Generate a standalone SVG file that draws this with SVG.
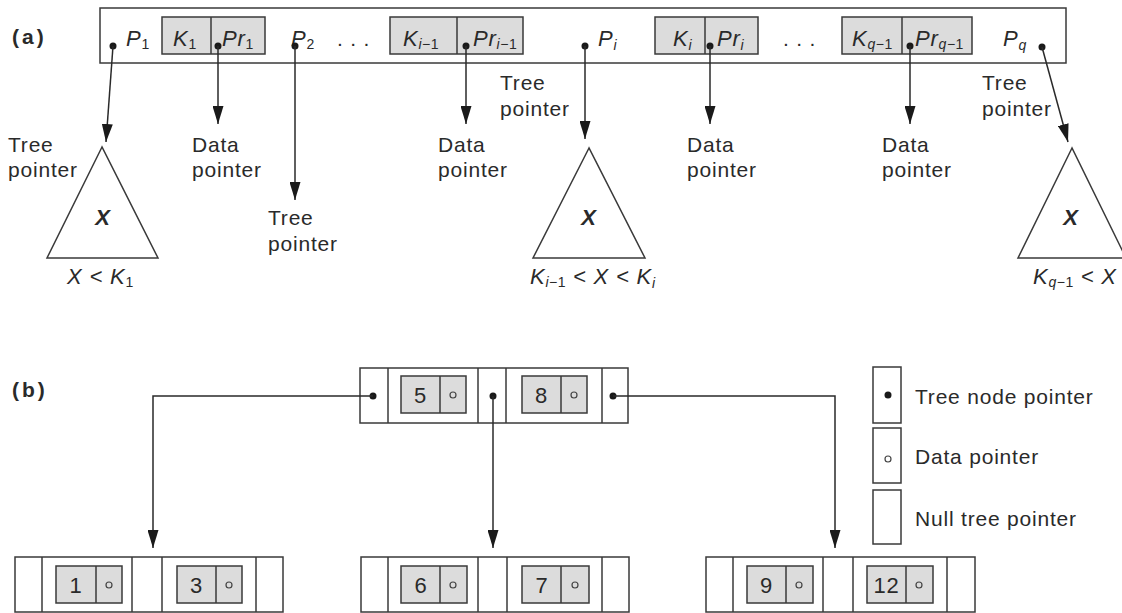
<svg xmlns="http://www.w3.org/2000/svg" width="1122" height="613" viewBox="0 0 1122 613">
<style>
text{font-family:"Liberation Sans",Arial,sans-serif;fill:#2a2a2a;font-size:21px;letter-spacing:0.8px}
.b{font-weight:bold;font-size:21px;letter-spacing:3px}
.i{font-style:italic;font-size:22px}
.bi{font-style:italic;font-weight:bold;font-size:22px}
.s{font-size:14px;letter-spacing:0.5px}
.n{font-style:normal}
.box{fill:#fff;stroke:#3a3a3a;stroke-width:1.5}
.g{fill:#dcdcdc;stroke:#3a3a3a;stroke-width:1.5}
.ln{stroke:#3a3a3a;stroke-width:1.5;fill:none}
.dot{fill:#1a1a1a}
.o{fill:none;stroke:#444;stroke-width:1.2}
.c{stroke:#2a2a2a;stroke-width:1.5;fill:none;marker-end:url(#ah)}
.d{text-anchor:middle}
.dg{font-size:22px}
</style>
<defs>
<marker id="ah" markerWidth="18" markerHeight="11" refX="18" refY="5.5" orient="auto" markerUnits="userSpaceOnUse">
<path d="M0,0 L18,5.5 L0,11 z" fill="#1a1a1a"/>
</marker>
</defs>
<rect width="1122" height="613" fill="#fff"/>

<!-- (a) -->
<text class="b" x="12" y="44">(a)</text>
<g id="a-record">
<rect class="box" x="100" y="8" width="966" height="55"/>
<rect class="g" x="162" y="17" width="103" height="37"/><line class="ln" x1="211" y1="17" x2="211" y2="54"/>
<rect class="g" x="390" y="17" width="133" height="37"/><line class="ln" x1="457" y1="17" x2="457" y2="54"/>
<rect class="g" x="655" y="17" width="103" height="37"/><line class="ln" x1="705" y1="17" x2="705" y2="54"/>
<rect class="g" x="842" y="17" width="130" height="37"/><line class="ln" x1="902" y1="17" x2="902" y2="54"/>
<text class="i" x="126" y="46">P<tspan class="s n" dy="3">1</tspan></text>
<text class="i" x="173" y="46">K<tspan class="s n" dy="3">1</tspan></text>
<text class="i" x="222" y="46">Pr<tspan class="s n" dy="3">1</tspan></text>
<text class="i" x="291" y="46">P<tspan class="s n" dy="3">2</tspan></text>
<text x="337" y="46">. . .</text>
<text class="i" x="403" y="46">K<tspan class="s" dy="3">i</tspan><tspan class="s n">−1</tspan></text>
<text class="i" x="473" y="46">Pr<tspan class="s" dy="3">i</tspan><tspan class="s n">−1</tspan></text>
<text class="i" x="598" y="46">P<tspan class="s" dy="4">i</tspan></text>
<text class="i" x="673" y="46">K<tspan class="s" dy="4">i</tspan></text>
<text class="i" x="717" y="46">Pr<tspan class="s" dy="4">i</tspan></text>
<text x="783" y="46">. . .</text>
<text class="i" x="852" y="46">K<tspan class="s" dy="3">q</tspan><tspan class="s n">−1</tspan></text>
<text class="i" x="915" y="46">Pr<tspan class="s" dy="3">q</tspan><tspan class="s n">−1</tspan></text>
<text class="i" x="1003" y="46">P<tspan class="s" dy="4">q</tspan></text>
<circle class="dot" cx="113" cy="46" r="3.5"/>
<circle class="dot" cx="218" cy="46" r="3.5"/>
<circle class="dot" cx="295" cy="46" r="3.5"/>
<circle class="dot" cx="466" cy="46" r="3.5"/>
<circle class="dot" cx="585" cy="46" r="3.5"/>
<circle class="dot" cx="710" cy="46" r="3.5"/>
<circle class="dot" cx="910" cy="46" r="3.5"/>
<circle class="dot" cx="1042" cy="47" r="3.5"/>
</g>

<g id="a-subtree-1">
<polygon class="ln" points="102,147 47,258 158,258"/>
<text class="bi d" x="103" y="225">X</text>
<text class="i" x="67" y="284">X &lt; K<tspan class="s n" dy="3">1</tspan></text>
</g>
<g id="a-subtree-i">
<polygon class="ln" points="589,148 533,258 645,258"/>
<text class="bi d" x="589" y="225">X</text>
<text class="i" x="530" y="284">K<tspan class="s" dy="3">i</tspan><tspan class="s n">−1</tspan><tspan dy="-3"> &lt; X &lt; K</tspan><tspan class="s" dy="4">i</tspan></text>
</g>
<g id="a-subtree-q">
<polygon class="ln" points="1072,148 1018,258 1126,258"/>
<text class="bi d" x="1071" y="225">X</text>
<text class="i" x="1033" y="284">K<tspan class="s" dy="3">q</tspan><tspan class="s n">−1</tspan><tspan dy="-3"> &lt; X</tspan></text>
</g>

<g id="a-labels">
<text x="8" y="152">Tree</text><text x="8" y="177">pointer</text>
<text x="192" y="152">Data</text><text x="192" y="177">pointer</text>
<text x="268" y="225">Tree</text><text x="268" y="251">pointer</text>
<text x="438" y="152">Data</text><text x="438" y="177">pointer</text>
<text x="500" y="90">Tree</text><text x="500" y="116">pointer</text>
<text x="687" y="152">Data</text><text x="687" y="177">pointer</text>
<text x="882" y="152">Data</text><text x="882" y="177">pointer</text>
<text x="982" y="90">Tree</text><text x="982" y="116">pointer</text>
</g>

<!-- (b) -->
<text class="b" x="12" y="397">(b)</text>

<g id="b-root" transform="translate(360,368)">
<rect class="box" x="0" y="0" width="268" height="55"/>
<line class="ln" x1="28" y1="0" x2="28" y2="55"/><line class="ln" x1="118" y1="0" x2="118" y2="55"/>
<line class="ln" x1="146" y1="0" x2="146" y2="55"/><line class="ln" x1="242" y1="0" x2="242" y2="55"/>
<rect class="g" x="41" y="8" width="65" height="37"/><line class="ln" x1="80" y1="8" x2="80" y2="45"/>
<rect class="g" x="162" y="8" width="65" height="37"/><line class="ln" x1="201" y1="8" x2="201" y2="45"/>
<text class="d dg" x="60.5" y="35">5</text><text class="d dg" x="181.5" y="35">8</text>
<circle class="o" cx="93" cy="27" r="3"/><circle class="o" cx="214" cy="27" r="3"/>
<circle class="dot" cx="13" cy="28" r="3.5"/><circle class="dot" cx="133" cy="28" r="3.5"/><circle class="dot" cx="253" cy="28" r="3.5"/>
</g>

<g id="b-leaf-1" transform="translate(15,557)">
<rect class="box" x="0" y="0" width="268" height="55"/>
<line class="ln" x1="27" y1="0" x2="27" y2="55"/><line class="ln" x1="117" y1="0" x2="117" y2="55"/>
<line class="ln" x1="147" y1="0" x2="147" y2="55"/><line class="ln" x1="241" y1="0" x2="241" y2="55"/>
<rect class="g" x="41" y="9" width="66" height="37"/><line class="ln" x1="81" y1="9" x2="81" y2="46"/>
<rect class="g" x="162" y="9" width="65" height="37"/><line class="ln" x1="201" y1="9" x2="201" y2="46"/>
<text class="d dg" x="61" y="36">1</text><text class="d dg" x="181.5" y="36">3</text>
<circle class="o" cx="94" cy="28" r="3"/><circle class="o" cx="214" cy="28" r="3"/>
</g>

<g id="b-leaf-2" transform="translate(361,557)">
<rect class="box" x="0" y="0" width="268" height="55"/>
<line class="ln" x1="27" y1="0" x2="27" y2="55"/><line class="ln" x1="117" y1="0" x2="117" y2="55"/>
<line class="ln" x1="146" y1="0" x2="146" y2="55"/><line class="ln" x1="241" y1="0" x2="241" y2="55"/>
<rect class="g" x="40" y="9" width="66" height="37"/><line class="ln" x1="79" y1="9" x2="79" y2="46"/>
<rect class="g" x="161" y="9" width="67" height="37"/><line class="ln" x1="200" y1="9" x2="200" y2="46"/>
<text class="d dg" x="60" y="36">6</text><text class="d dg" x="181" y="36">7</text>
<circle class="o" cx="92" cy="28" r="3"/><circle class="o" cx="214" cy="28" r="3"/>
</g>

<g id="b-leaf-3" transform="translate(706,557)">
<rect class="box" x="0" y="0" width="269" height="55"/>
<line class="ln" x1="27" y1="0" x2="27" y2="55"/><line class="ln" x1="117" y1="0" x2="117" y2="55"/>
<line class="ln" x1="147" y1="0" x2="147" y2="55"/><line class="ln" x1="241" y1="0" x2="241" y2="55"/>
<rect class="g" x="41" y="9" width="66" height="37"/><line class="ln" x1="80" y1="9" x2="80" y2="46"/>
<rect class="g" x="161" y="9" width="66" height="37"/><line class="ln" x1="200" y1="9" x2="200" y2="46"/>
<text class="d dg" x="60.5" y="36">9</text><text class="d dg" x="180.5" y="36">12</text>
<circle class="o" cx="93" cy="28" r="3"/><circle class="o" cx="213" cy="28" r="3"/>
</g>

<g id="legend">
<rect class="box" x="873" y="367" width="28" height="56"/>
<circle class="dot" cx="888" cy="395" r="3.5"/>
<text x="915" y="404">Tree node pointer</text>
<rect class="box" x="873" y="428" width="28" height="55"/>
<circle class="o" cx="888" cy="459" r="3"/>
<text x="915" y="464">Data pointer</text>
<rect class="box" x="873" y="490" width="28" height="54"/>
<text x="915" y="526">Null tree pointer</text>
</g>

<g id="connectors">
<path class="c" d="M113,46 L106,142"/>
<path class="c" d="M218,46 V124"/>
<path class="c" d="M295,46 V200"/>
<path class="c" d="M466,46 V124"/>
<path class="c" d="M585,46 V139"/>
<path class="c" d="M710,46 V124"/>
<path class="c" d="M910,46 V124"/>
<path class="c" d="M1042,47 L1068,142"/>
<path class="c" d="M373,396 H153 V548"/>
<path class="c" d="M493,396 V548"/>
<path class="c" d="M613,396 H835 V548"/>
</g>
</svg>
